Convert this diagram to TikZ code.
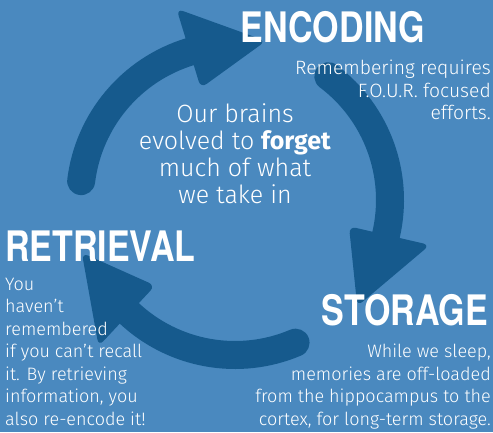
\documentclass[tikz,border=0pt]{standalone}
\usepackage{fontspec}
\setmainfont{Fira Sans}[UprightFont={* Light}, BoldFont={* Bold}]
\newfontfamily\headfont[FakeStretch=0.81]{TeX Gyre Heros}
\definecolor{sheet}{RGB}{74,137,191}
\definecolor{loopblue}{RGB}{22,90,141}
\tikzset{%
	title/.style    = {text=white, inner sep=0pt, font=\headfont\bfseries\fontsize{42}{42}\selectfont},
	note/.style     = {text=white, inner sep=0pt, font=\fontsize{18}{22.5}\selectfont}, % side texts
	core/.style     = {text=white, inner sep=0pt, align=center, font=\fontsize{25}{26.7}\selectfont},
	loop/.style     = {draw=loopblue, line width=28pt, line cap=round}, % arc body
	head/.style     = {fill=loopblue, rounded corners=7pt} % arrow head
}

\begin{document}
\begin{tikzpicture}[x=1pt,y=1pt]
                \fill[sheet] (0,0) rectangle (493,432);
                \useasboundingbox (0,0) rectangle (493,432);

                % the three arcs of the cycle, tail round, head a triangle
                \begin{scope}[shift={(235,232)}]
                    \draw[loop] (173:155) arc[start angle=173, end angle=107, radius=155pt];
                    \draw[loop] (53:155)  arc[start angle=53,  end angle=-13, radius=155pt];
                    \draw[loop] (-67:155) arc[start angle=-67, end angle=-133, radius=155pt];
                    \fill[head] (107:117) -- (79:162) -- (107:200) -- cycle;
                    \fill[head] (-13:117) -- (-41:162) -- (-13:200) -- cycle;
                    \fill[head] (227:117) -- (199:162) -- (227:200) -- cycle;
                \end{scope}

                \node[title, anchor=base east] (encoding) at (425,389) {ENCODING};
                \node[title, anchor=base west] (retrieval) at (5,171) {RETRIEVAL};
                \node[title, anchor=base east] (storage) at (488,107) {STORAGE};

                % multi-line nodes sit on the baseline of their last line
                \node[note, anchor=base east, align=right, font=\fontsize{19.3}{23}\selectfont] (encnote) at (491,312)
                    {Remembering requires\\F.O.U.R. focused\\efforts.};
                \node[note, anchor=base west, align=left] (retnote) at (5,7)
                    {You\\haven’t\\remembered\\if you can’t recall\\it. By retrieving\\information, you\\also re-encode it!};
                \node[note, anchor=base east, align=right] (stonote) at (491,7)
                    {While we sleep,\\memories are off-loaded\\from the hippocampus to the\\cortex, for long-term storage.};
                \node[core, anchor=base] (brains) at (235,229)
                    {Our brains\\evolved to \textbf{forget}\\much of what\\we take in};
            \end{tikzpicture}
\end{document}
